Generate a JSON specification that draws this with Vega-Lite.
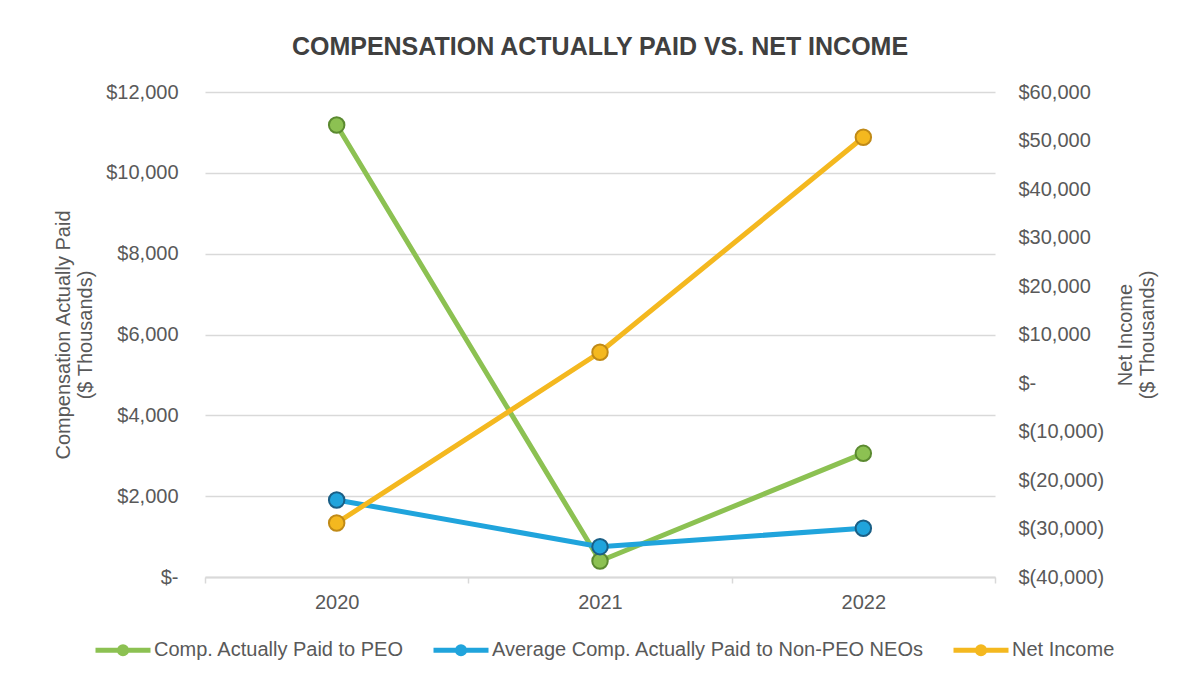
{
  "$schema": "https://vega.github.io/schema/vega-lite/v6.json",
  "autosize": "none",
  "width": 790,
  "height": 485,
  "padding": {"left": 205, "top": 92, "right": 193, "bottom": 102},
  "background": "white",
  "title": {
    "text": "COMPENSATION ACTUALLY PAID VS. NET INCOME",
    "font": "Liberation Sans",
    "fontSize": 25,
    "fontWeight": "bold",
    "color": "#404040",
    "anchor": "middle",
    "offset": 22
  },
  "datasets": {
    "comp": [
      {"year": "2020", "series": "Comp. Actually Paid to PEO", "value": 11184},
      {"year": "2021", "series": "Comp. Actually Paid to PEO", "value": 396},
      {"year": "2022", "series": "Comp. Actually Paid to PEO", "value": 3060},
      {"year": "2020", "series": "Average Comp. Actually Paid to Non-PEO NEOs", "value": 1905},
      {"year": "2021", "series": "Average Comp. Actually Paid to Non-PEO NEOs", "value": 750},
      {"year": "2022", "series": "Average Comp. Actually Paid to Non-PEO NEOs", "value": 1205}
    ],
    "net": [
      {"year": "2020", "series": "Net Income", "value": -28870},
      {"year": "2021", "series": "Net Income", "value": 6330},
      {"year": "2022", "series": "Net Income", "value": 50660}
    ]
  },
  "config": {
    "font": "Liberation Sans",
    "view": {"stroke": null},
    "axis": {
      "labelFont": "Liberation Sans",
      "titleFont": "Liberation Sans",
      "labelColor": "#595959",
      "titleColor": "#595959",
      "labelFontSize": 20,
      "titleFontSize": 20,
      "titleFontWeight": "normal"
    }
  },
  "encoding": {
    "x": {
      "field": "year",
      "type": "ordinal",
      "bandPosition": 0.5,
      "scale": {"type": "band", "paddingInner": 0, "paddingOuter": 0},
      "axis": {
        "title": null,
        "labelAngle": 0,
        "tickBand": "extent",
        "grid": false,
        "domainColor": "#d9d9d9",
        "domainWidth": 2,
        "tickColor": "#d9d9d9",
        "tickWidth": 1.5,
        "tickSize": 6,
        "labelPadding": 9
      }
    }
  },
  "layer": [
    {
      "data": {"name": "comp"},
      "encoding": {
        "y": {
          "field": "value",
          "type": "quantitative",
          "scale": {"domain": [0, 12000], "nice": false},
          "axis": {
            "title": ["Compensation Actually Paid", "($ Thousands)"],
            "values": [0, 2000, 4000, 6000, 8000, 10000, 12000],
            "labelExpr": "datum.value == 0 ? '$-' : '$' + format(datum.value, ',')",
            "ticks": false,
            "domain": false,
            "grid": true,
            "gridColor": "#d9d9d9",
            "gridWidth": 1.5,
            "labelPadding": 27,
            "titlePadding": 10
          }
        },
        "color": {
          "field": "series",
          "type": "nominal",
          "scale": {
            "domain": ["Comp. Actually Paid to PEO", "Average Comp. Actually Paid to Non-PEO NEOs", "Net Income"],
            "range": ["#8cc152", "#20a4dc", "#f4b81f"]
          },
          "legend": {
            "title": null,
            "orient": "none",
            "direction": "horizontal",
            "legendX": -112,
            "legendY": 528,
            "symbolType": "M-1,0L1,0M0.13,0A0.13,0.13,0,1,1,-0.13,0A0.13,0.13,0,1,1,0.13,0Z",
            "symbolSize": 3025,
            "symbolStrokeWidth": 5,
            "labelFont": "Liberation Sans",
            "labelFontSize": 20,
            "labelColor": "#595959",
            "labelLimit": 0,
            "labelOffset": 1,
            "columnPadding": 18,
            "encode": {"symbols": {"update": {"fill": {"scale": "color", "field": "value"}}}}
          }
        }
      },
      "layer": [
        {"mark": {"type": "line", "strokeWidth": 5}},
        {
          "mark": {"type": "point", "filled": true, "size": 240, "strokeWidth": 2, "opacity": 1},
          "encoding": {
            "stroke": {
              "field": "series",
              "type": "nominal",
              "scale": {
                "domain": ["Comp. Actually Paid to PEO", "Average Comp. Actually Paid to Non-PEO NEOs", "Net Income"],
                "range": ["#5b8a30", "#1a5f86", "#c08a17"]
              },
              "legend": null
            }
          }
        }
      ]
    },
    {
      "data": {"name": "net"},
      "encoding": {
        "y": {
          "field": "value",
          "type": "quantitative",
          "scale": {"domain": [-40000, 60000], "nice": false},
          "axis": {
            "orient": "right",
            "title": ["Net Income", "($ Thousands)"],
            "titleAngle": 270,
            "values": [-40000, -30000, -20000, -10000, 0, 10000, 20000, 30000, 40000, 50000, 60000],
            "labelExpr": "datum.value == 0 ? '$-' : datum.value < 0 ? '$(' + format(-datum.value, ',') + ')' : '$' + format(datum.value, ',')",
            "ticks": false,
            "domain": false,
            "grid": false,
            "labelPadding": 23,
            "titlePadding": 10
          }
        },
        "color": {"field": "series", "type": "nominal"}
      },
      "layer": [
        {"mark": {"type": "line", "strokeWidth": 5}},
        {
          "mark": {"type": "point", "filled": true, "size": 240, "strokeWidth": 2, "opacity": 1},
          "encoding": {
            "stroke": {"field": "series", "type": "nominal", "legend": null}
          }
        }
      ]
    }
  ],
  "resolve": {"scale": {"y": "independent"}}
}
